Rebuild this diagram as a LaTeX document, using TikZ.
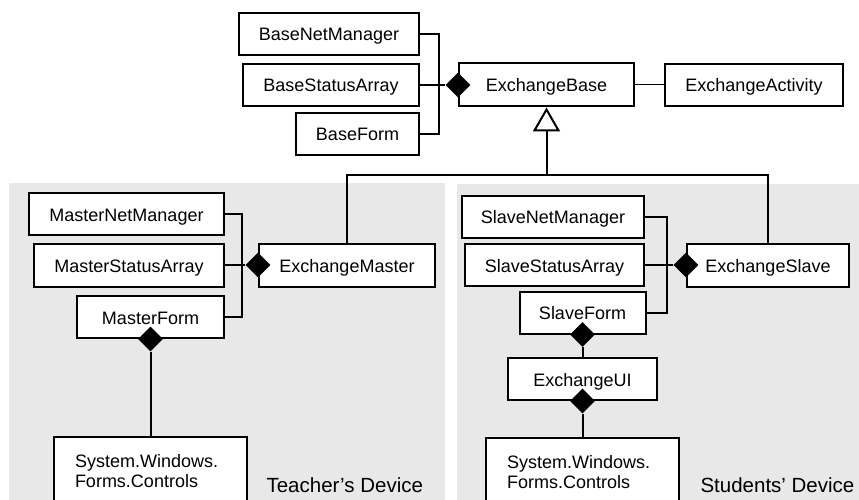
\documentclass[tikz,border=0pt]{standalone}
\usepackage{fontspec}
\setmainfont{Liberation Sans}
\usetikzlibrary{arrows.meta,shapes.geometric}
\definecolor{panelgray}{RGB}{232,232,232}
\tikzset{cls/.style={draw, line width=2pt, fill=white, minimum height=42pt, inner sep=0pt,
    text height=14pt, text depth=0pt, font=\fontsize{18}{20}\selectfont},
  sysbox/.style={draw, line width=2pt, fill=white, text width=151pt, inner xsep=21pt,
    inner ysep=0pt, minimum height=68pt, align=left, font=\fontsize{18}{20}\selectfont},
  compo/.style={diamond, fill=black, inner sep=0pt, minimum width=25pt, minimum height=25pt},
  link/.style={line width=2pt},
  inherit/.style={line width=2pt, -{Triangle[open, length=24pt, width=27pt]}},
  device/.style={anchor=base west, font=\fontsize{20.5}{24}\selectfont}}

\begin{document}
\begin{tikzpicture}[x=1pt, y=-1pt]
  \useasboundingbox (0,0) rectangle (859,500);
  \clip (0,0) rectangle (859,500);
  \fill[panelgray] (9,183) rectangle (445,500);
  \fill[panelgray] (457,184) rectangle (859,500);

  % base classes
  \node[cls, minimum width=180pt] (bnm) at (329,34) {BaseNetManager};
  \node[cls, minimum width=176pt] (bsa) at (331,85) {BaseStatusArray};
  \node[cls, minimum width=123pt] (bf) at (357.5,134) {BaseForm};
  \node[cls, minimum width=175pt, minimum height=43pt] (eb) at (546.5,85) {ExchangeBase};
  \node[cls, minimum width=178pt] (ea) at (754,85) {ExchangeActivity};

  % teacher side
  \node[cls, minimum width=195pt] (mnm) at (126.5,214) {MasterNetManager};
  \node[cls, minimum width=190pt, minimum height=43pt] (msa) at (129,265) {MasterStatusArray};
  \node[cls, minimum width=147pt] (mf) at (150.5,317) {MasterForm};
  \node[cls, minimum width=176pt, minimum height=43pt] (em) at (347,265) {ExchangeMaster};
  \node[sysbox] (sysM) at (150.5,471) {System.Windows.\\Forms.Controls};

  % student side
  \node[cls, minimum width=182pt] (snm) at (553,216.5) {SlaveNetManager};
  \node[cls, minimum width=179pt] (ssa) at (554.5,265) {SlaveStatusArray};
  \node[cls, minimum width=126pt] (sf) at (582.5,312.5) {SlaveForm};
  \node[cls, minimum width=162pt, minimum height=43pt] (es) at (768,265) {ExchangeSlave};
  \node[cls, minimum width=149pt] (ui) at (582.5,379) {ExchangeUI};
  \node[sysbox] (sysS) at (582.5,472) {System.Windows.\\Forms.Controls};

  % composition diamonds
  \node[compo] (dB) at (eb.west) {};
  \node[compo] (dM) at (em.west) {};
  \node[compo] (dS) at (es.west) {};
  \node[compo] (dMF) at (mf.south) {};
  \node[compo] (dSF) at (sf.south) {};
  \node[compo] (dUI) at (ui.south) {};

  \coordinate (bB) at (439,85);
  \coordinate (bM) at (242,265);
  \coordinate (bS) at (667,265);
  \coordinate (jn) at (eb.south |- 0,175);

  \draw[link] (bnm.east) -| (bB) |- (bf.east);
  \draw[link] (bsa) -- (dB);
  \draw[line width=1pt] (eb) -- (ea);
  \draw[link] (mnm.east) -| (bM) |- (mf.east);
  \draw[link] (msa) -- (dM);
  \draw[link] (snm.east) -| (bS) |- (sf.east);
  \draw[link] (ssa) -- (dS);
  \draw[link] (dMF) -- (sysM);
  \draw[link] (dSF) -- (ui);
  \draw[link] (dUI) -- (sysS);
  \draw[inherit] (jn) -- (eb.south);
  \draw[link] (em.north) |- (jn) -| (es.north);

  \node[device] (tdev) at (263,492) {Teacher’s Device};
  \node[device] (sdev) at (697,492) {Students’ Device};
\end{tikzpicture}
\end{document}
